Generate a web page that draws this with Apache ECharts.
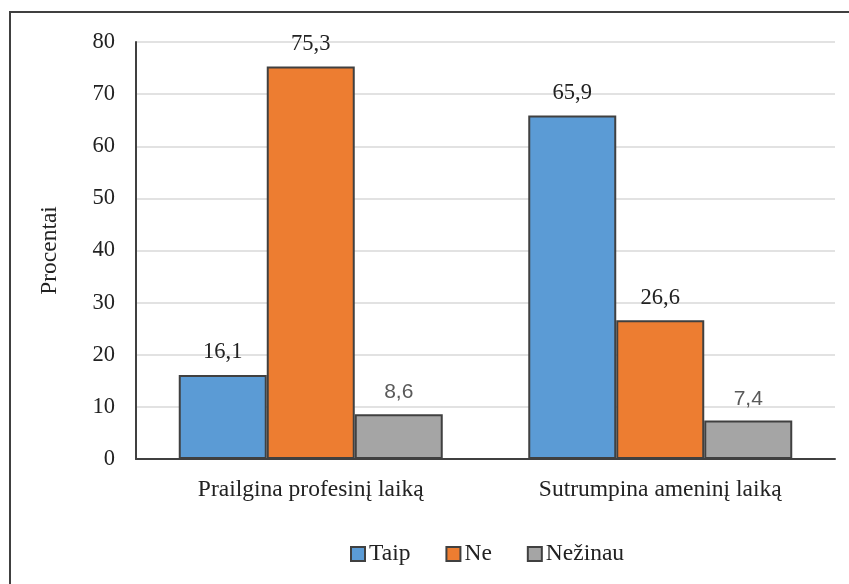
<!DOCTYPE html>
<html>
<head>
<meta charset="utf-8">
<script src="https://cdn.jsdelivr.net/npm/echarts@6/dist/echarts.min.js"></script>
<style>
  html, body { margin: 0; padding: 0; background: #fff; }
  #chart { width: 849px; height: 584px; }
</style>
</head>
<body>
<div id="chart"></div>
<script>
// Survey answers per statement, in percent
const categories = ['Prailgina profesinį laiką', 'Sutrumpina ameninį laiką'];
const taip = [16.1, 65.9];
const ne = [75.3, 26.6];
const nezinau = [8.6, 7.4];
const seriesNames = ['Taip', 'Ne', 'Nežinau'];
const yTicks = [0, 10, 20, 30, 40, 50, 60, 70, 80];

const serif = '"Liberation Serif", "Times New Roman", serif';
const sans = '"Liberation Sans", Arial, sans-serif';
const fmt = p => String(p.value).replace('.', ',');

function bar(name, data, color, labelColor, labelFont, labelSize) {
  return {
    name: name,
    type: 'bar',
    data: data,
    barWidth: 88,
    barGap: '0%',
    itemStyle: { color: color, borderColor: '#404040', borderWidth: 2 },
    label: {
      show: true,
      position: 'top',
      distance: 11,
      formatter: fmt,
      color: labelColor,
      fontFamily: labelFont,
      fontSize: labelSize
    }
  };
}

const chart = echarts.init(document.getElementById('chart'), null, { renderer: 'canvas' });
chart.setOption({
  animation: false,
  backgroundColor: '#fff',
  graphic: [{
    type: 'rect',
    shape: { x: 10, y: 12, width: 900, height: 700 },
    style: { fill: 'none', stroke: '#404040', lineWidth: 2 },
    silent: true
  }],
  grid: { left: 136, right: 14, top: 42, bottom: 125 },
  legend: {
    data: seriesNames,
    left: 345,
    top: 537,
    itemWidth: 14,
    itemHeight: 14,
    itemGap: 35,
    icon: 'rect',
    itemStyle: { borderColor: '#404040', borderWidth: 2 },
    textStyle: { fontFamily: serif, fontSize: 23.5, color: '#222', padding: [0, 0, 0, -1] }
  },
  xAxis: {
    type: 'category',
    data: categories,
    axisLine: { lineStyle: { color: '#404040', width: 2 } },
    axisTick: { show: false },
    axisLabel: { fontFamily: serif, fontSize: 23.5, color: '#222', margin: 19 }
  },
  yAxis: {
    type: 'value',
    min: yTicks[0],
    max: yTicks[yTicks.length - 1],
    interval: 10,
    name: 'Procentai',
    nameLocation: 'middle',
    nameGap: 74,
    nameRotate: 90,
    nameTextStyle: { fontFamily: serif, fontSize: 23.5, color: '#222' },
    axisLine: { show: true, lineStyle: { color: '#404040', width: 2 } },
    axisTick: { show: false },
    axisLabel: { fontFamily: serif, fontSize: 22.5, color: '#222', margin: 21 },
    splitLine: { lineStyle: { color: '#d9d9d9', width: 1.5 } }
  },
  series: [
    bar(seriesNames[0], taip, '#5B9BD5', '#222', serif, 22.5),
    bar(seriesNames[1], ne, '#ED7D31', '#222', serif, 22.5),
    bar(seriesNames[2], nezinau, '#A5A5A5', '#595959', sans, 21)
  ]
});
</script>
</body>
</html>
